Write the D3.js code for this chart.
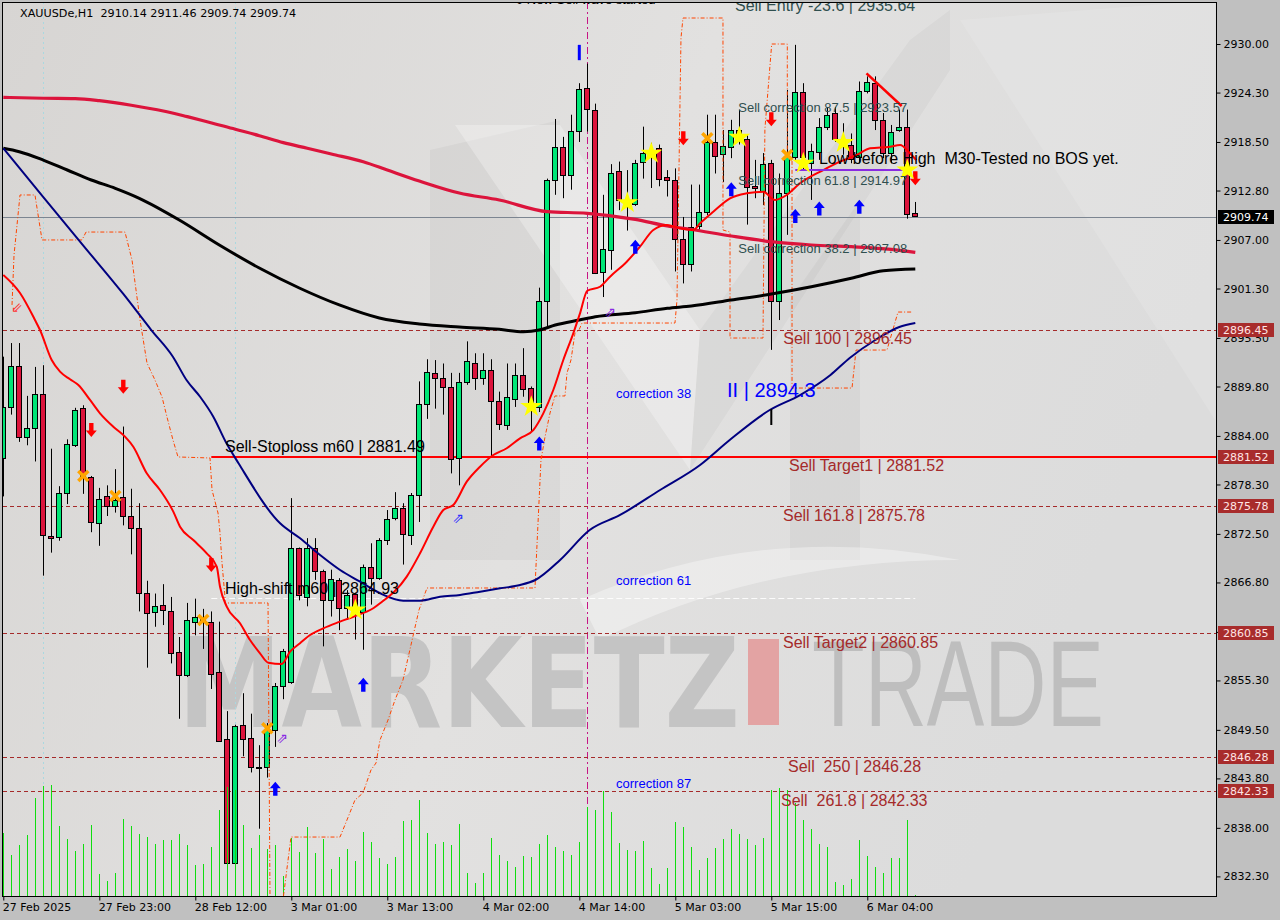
<!DOCTYPE html>
<html><head><meta charset="utf-8">
<script src="https://cdn.jsdelivr.net/npm/d3@7"></script>
<style>html,body{margin:0;padding:0;background:#c0c0c0;}svg{display:block}</style>
</head><body>
<svg id="c" width="1280" height="920"></svg>
<script>
// ---------------- DATA ----------------
const symbolHeader = "XAUUSDe,H1  2910.14 2911.46 2909.74 2909.74";
const timeLabels = ["27 Feb 2025","27 Feb 23:00","28 Feb 12:00","3 Mar 01:00","3 Mar 13:00","4 Mar 02:00","4 Mar 14:00","5 Mar 03:00","5 Mar 15:00","6 Mar 04:00"];
const timeTickIdx = [0,12,24,36,48,60,72,84,96,108];
const priceTicks = [2930.00,2924.30,2918.50,2912.80,2907.00,2901.30,2895.50,2889.80,2884.00,2878.30,2872.50,2866.80,2861.00,2855.30,2849.50,2843.80,2838.00,2832.30];

const opens  = [2881.4,2887.4,2892.2,2883.9,2884.9,2888.9,2872.3,2872.1,2877.3,2883.0,2887.3,2879.2,2873.8,2877.0,2875.8,2876.8,2874.6,2873.2,2865.6,2863.3,2864.1,2863.5,2858.6,2855.9,2862.2,2862.8,2862.2,2856.3,2848.4,2833.9,2850.1,2848.5,2845.1,2845.2,2849.5,2854.7,2855.1,2870.8,2865.1,2870.8,2868.1,2864.7,2867.1,2863.8,2865.5,2863.3,2868.6,2867.3,2871.8,2874.3,2875.5,2872.4,2877.1,2887.8,2891.4,2890.8,2889.8,2881.4,2890.3,2892.6,2890.8,2891.7,2888.1,2885.3,2888.4,2891.2,2889.6,2887.4,2899.8,2914.0,2917.9,2914.6,2919.8,2924.8,2922.3,2903.2,2905.9,2915.1,2911.7,2911.2,2916.1,2917.2,2917.8,2914.4,2914.0,2907.1,2904.2,2908.6,2910.3,2918.5,2917.1,2917.9,2919.9,2918.8,2913.3,2912.7,2916.0,2899.8,2912.5,2916.8,2924.4,2916.0,2917.4,2920.3,2921.9,2918.9,2918.2,2916.8,2924.5,2925.4,2921.1,2917.2,2919.9,2920.3,2910.14];
const highs  = [2893.3,2894.9,2894.9,2888.7,2892.1,2892.3,2882.5,2878.1,2883.6,2887.3,2887.6,2879.3,2877.9,2878.2,2880.1,2885.1,2877.8,2876.1,2867.0,2865.5,2866.6,2865.1,2860.4,2864.4,2864.9,2863.7,2863.4,2862.2,2851.7,2850.1,2853.8,2851.4,2847.7,2850.3,2855.0,2859.0,2876.7,2870.9,2872.0,2872.0,2868.3,2868.3,2867.3,2865.9,2865.6,2868.9,2871.4,2872.0,2875.3,2877.4,2876.1,2877.3,2890.4,2893.0,2892.9,2892.5,2891.4,2891.4,2895.1,2893.7,2893.7,2893.0,2889.2,2892.5,2892.5,2894.3,2889.8,2901.4,2914.2,2921.2,2919.1,2921.7,2925.4,2927.7,2923.0,2912.3,2915.9,2916.2,2915.2,2916.4,2920.3,2918.4,2918.2,2915.2,2915.4,2909.7,2913.5,2913.5,2921.7,2921.7,2919.9,2921.1,2922.3,2919.3,2916.4,2917.2,2916.4,2914.8,2924.6,2929.9,2925.4,2918.3,2921.3,2922.6,2922.6,2920.7,2919.5,2925.6,2926.2,2926.2,2921.9,2920.5,2922.3,2922.3,2911.46];
const lows   = [2876.9,2886.5,2883.3,2882.9,2881.0,2867.6,2870.3,2871.7,2876.0,2882.7,2877.2,2872.7,2871.1,2874.6,2875.0,2873.5,2870.1,2863.4,2856.8,2861.6,2861.8,2857.3,2850.8,2855.7,2860.6,2859.0,2854.3,2848.1,2833.8,2833.8,2846.4,2844.5,2837.9,2843.9,2847.5,2853.1,2854.9,2864.7,2864.0,2867.1,2859.3,2862.8,2861.2,2862.4,2860.1,2858.9,2864.2,2867.1,2871.2,2874.1,2868.9,2871.2,2873.9,2886.0,2887.2,2886.5,2879.6,2878.2,2890.0,2889.4,2890.0,2881.6,2884.7,2884.7,2887.4,2888.6,2884.5,2886.8,2896.8,2912.3,2911.9,2912.9,2918.5,2919.7,2903.0,2900.3,2903.5,2910.5,2908.1,2911.0,2914.2,2913.1,2913.3,2912.1,2903.3,2901.9,2903.3,2908.2,2909.9,2914.8,2913.8,2916.6,2918.2,2908.8,2911.9,2911.1,2894.1,2897.6,2907.6,2916.4,2915.2,2911.7,2916.4,2919.9,2918.5,2917.0,2916.0,2916.0,2924.2,2919.9,2916.6,2916.0,2919.7,2909.5,2909.74];
const closes = [2887.4,2892.2,2883.9,2884.9,2888.9,2872.3,2872.1,2877.3,2883.0,2887.1,2879.2,2873.9,2876.6,2875.8,2876.5,2874.6,2873.2,2865.6,2863.3,2864.0,2863.5,2858.6,2855.9,2862.4,2862.8,2862.4,2856.1,2848.2,2833.9,2850.0,2848.5,2845.1,2845.0,2849.5,2854.7,2858.8,2870.8,2865.3,2870.8,2868.1,2864.7,2867.2,2863.8,2865.3,2864.0,2868.6,2867.3,2871.8,2874.3,2875.5,2872.5,2877.1,2887.8,2891.5,2890.8,2889.8,2881.4,2890.3,2892.8,2890.8,2891.7,2888.1,2885.4,2888.6,2891.2,2889.6,2887.4,2899.8,2914.0,2917.9,2914.6,2919.8,2924.7,2922.3,2903.2,2905.9,2914.9,2911.7,2911.2,2916.0,2917.2,2917.5,2914.2,2914.0,2907.1,2904.2,2908.5,2910.3,2918.5,2916.9,2918.0,2919.9,2919.2,2913.2,2913.1,2915.9,2899.8,2912.5,2916.8,2924.4,2916.8,2917.4,2920.3,2921.7,2918.9,2918.3,2916.6,2924.5,2925.5,2921.1,2917.2,2919.7,2920.3,2910.1,2909.74];
const volumes = [1900,1230,1530,1830,2940,3300,3330,2100,1710,1350,1560,2130,660,450,690,2310,2100,1860,1770,1560,1680,1680,1860,1530,930,960,1470,2580,3280,3180,2130,1440,1830,1410,1530,600,1750,1320,2070,1290,1700,810,1170,1410,1050,1920,1620,1140,960,1170,2250,2280,2880,1890,1560,1620,1530,2160,690,390,690,1740,1230,1050,870,1200,1170,1560,1830,1470,1350,1230,1620,2670,2590,3150,2530,1600,1380,1360,1660,840,360,840,2230,2080,1470,790,1140,1440,1710,2010,1860,1710,1530,1740,3180,3230,3180,2780,2280,2010,1560,1470,420,330,510,1680,1200,870,690,1140,1140,2280,30];

// moving averages: [bar index, price]
const maSlowCrimson = [[0,2923.74],[5,2923.63],[9,2923.59],[12,2923.35],[16,2922.81],[20,2922.14],[23,2921.47],[25,2921.0],[29,2919.99],[32,2919.24],[35,2918.42],[38,2917.76],[41,2917.09],[45,2916.19],[48,2915.21],[52,2913.92],[57,2912.51],[62,2911.69],[68,2910.32],[73,2910.13],[79,2909.42],[83,2908.64],[86,2908.23],[91,2907.46],[96,2906.8],[101,2906.41],[106,2906.21],[111,2905.9],[114,2905.55]];
const maBlack = [[0,2917.76],[2,2917.36],[5,2916.38],[8,2915.21],[11,2914.04],[14,2913.06],[17,2911.89],[22,2909.34],[27,2906.41],[32,2903.71],[37,2901.36],[42,2899.37],[47,2897.84],[52,2897.14],[57,2896.78],[62,2896.51],[65,2896.23],[67,2896.43],[69,2897.02],[72,2897.61],[74,2897.99],[79,2898.46],[83,2898.98],[86,2899.25],[91,2899.95],[96,2900.66],[101,2901.51],[106,2902.5],[110,2903.39],[114,2903.59]];
const maNavy = [[0,2917.76],[5,2912.04],[10,2906.34],[15,2900.66],[18.5,2896.43],[21.2,2893.3],[22.9,2890.56],[24.6,2888.6],[26.25,2886.26],[27.9,2883.13],[29.4,2880.79],[34.6,2873.74],[37.1,2871.98],[39.6,2870.02],[42.1,2868.26],[44.6,2866.89],[47.1,2865.53],[50,2864.66],[52.1,2864.66],[54.6,2865.13],[57.1,2865.33],[59.6,2865.72],[62.1,2866.11],[64.6,2866.5],[66.5,2867.09],[69.6,2869.44],[73.3,2872.96],[77.1,2874.72],[82.1,2877.65],[87.1,2880.59],[90.8,2883.52],[95.8,2887.04],[99.6,2888.8],[103.4,2891.15],[105.8,2893.15],[109,2895.26],[112,2896.78],[114,2897.25]];
const maRed = [[0,2902.89],[2.09,2900.77],[3.96,2897.61],[4.59,2896.43],[6.05,2892.91],[7.09,2891.54],[8.34,2890.65],[9.38,2889.98],[10.84,2888.22],[12.09,2886.65],[13.75,2885.08],[15.21,2883.91],[16.25,2882.73],[17.93,2879.61],[19.59,2877.65],[21.25,2875.11],[22.09,2873.34],[23.75,2871.78],[25.43,2870.22],[26.68,2868.65],[27.09,2866.3],[27.93,2863.96],[29.59,2862.01],[30.84,2860.05],[32.09,2858.49],[33.13,2857.38],[34.8,2857.23],[35.84,2858.67],[37.09,2859.66],[38.34,2860.63],[40.0,2861.42],[42.09,2862.2],[43.75,2862.78],[46.25,2863.77],[47.09,2864.35],[50.43,2867.48],[52.09,2870.22],[53.75,2873.34],[55.0,2875.31],[56.25,2875.89],[57.93,2878.63],[59.59,2880.39],[61.25,2881.76],[62.93,2882.55],[64.59,2883.72],[66.25,2884.69],[67.5,2886.65],[68.75,2889.39],[70.0,2892.91],[71.25,2896.04],[72.09,2898.39],[73.0,2901.04],[74.59,2901.51],[75.84,2902.69],[77.93,2904.45],[79.59,2906.21],[81.25,2908.17],[82.93,2908.76],[84.59,2908.37],[86.25,2908.17],[87.09,2908.96],[88.75,2910.32],[90.84,2911.89],[92.93,2912.48],[95.0,2912.66],[96.46,2911.69],[97.93,2912.28],[99.59,2913.65],[102.5,2915.21],[104.59,2916.19],[106.68,2916.97],[108.34,2917.76],[110.84,2917.95],[112.09,2918.15],[113.34,2917.17],[114.1,2916.38]];
// stepped orange dashed band
const bandLine = [[1.09,2899.37],[1.34,2905.23],[2.09,2912.28],[3.96,2912.28],[4.84,2907.0],[9.84,2907.0],[10.34,2907.93],[15.21,2907.93],[16.09,2904.65],[17.09,2897.61],[17.96,2892.56],[18.96,2890.56],[19.84,2888.57],[20.46,2886.22],[21.21,2883.52],[21.84,2881.53],[25.84,2881.41],[26.09,2877.65],[26.84,2874.95],[27.09,2872.61],[27.34,2869.08],[27.71,2865.09],[27.71,2864.39],[33.09,2864.39],[33.34,2829.53],[34.96,2829.53],[35.96,2836.92],[42.09,2836.92],[42.96,2838.92],[43.96,2841.27],[44.96,2842.09],[45.96,2844.79],[46.59,2845.61],[47.09,2848.31],[48.09,2850.66],[48.96,2853.0],[49.96,2855.35],[50.96,2859.46],[51.96,2863.57],[52.96,2866.15],[66.46,2866.15],[67.21,2881.17],[67.71,2883.87],[68.34,2886.69],[68.96,2888.69],[70.21,2888.69],[70.46,2891.38],[70.96,2892.91],[71.46,2896.08],[71.96,2896.43],[72.34,2897.25],[83.96,2897.25],[84.21,2899.95],[84.71,2930.7],[84.96,2933.05],[89.96,2933.05],[89.96,2908.17],[90.84,2907.93],[90.84,2895.49],[94.96,2895.49],[95.2,2920.0],[96.05,2930.0],[98.0,2930.0],[98.0,2916.74],[98.59,2916.38],[98.59,2889.62],[106.09,2889.62],[106.59,2894.08],[110.46,2894.08],[111.84,2898.54],[113.59,2898.54]];

const dashedLevels = [2896.45,2875.78,2860.85,2846.28,2842.33];
const stopLevel = 2881.52, stopFromIdx = 26;
const shiftLevel = 2864.93;
const lastPrice = 2909.74;
const priceTags = [{v:2909.74,k:"last"},{v:2896.45,k:"lvl"},{v:2881.52,k:"lvl"},{v:2875.78,k:"lvl"},{v:2860.85,k:"lvl"},{v:2846.28,k:"lvl"},{v:2842.33,k:"lvl"}];

const buyArrowIdx = [34,45,67,79,91,99,102,107];
const buyArrowPx  = [2842.6,2854.8,2883.1,2906.2,2912.95,2909.8,2910.7,2910.9];
const sellArrowIdx = [11,15,26,85,96,114];
const sellArrowPx  = [2884.7,2889.78,2868.85,2918.93,2921.16,2914.24];
const starIdx = [44,66,78,81,92,100,105,113];
const starPx  = [2863.57,2887.43,2911.37,2917.17,2919.05,2916.0,2918.42,2915.21];
const crossIdx = [10,14,25,33,88,98];
const crossPx  = [2879.3,2876.95,2862.4,2849.7,2918.93,2916.97];
const hollowIdx = [1.71,34.84,56.84,75.84];
const hollowPx  = [2899.13,2848.54,2874.37,2898.54];
const hollowGlyph = ["⇙","⇗","⇗","⇗"];

const lowBeforeHigh = {from:99,to:113,price:2915.2};
const trendRed = [[107.9,2926.56],[112.3,2922.72]];
const sepIdx = [5,29];
const pinkSepIdx = 73;

// annotations: text, anchor bar index, anchor price
const notes = [
 {t:"0 New Sell wave started", i:64.09, p:2934.69, c:"#000000", s:13},
 {t:"Sell Entry -23.6 | 2935.64", i:91.46, p:2933.9, c:"#2f4f4f", s:16},
 {t:"Sell correction 87.5 | 2923.57", i:91.87, p:2922.05, c:"#2f4f4f", s:13},
 {t:"Sell correction 61.8 | 2914.97", i:91.87, p:2913.4, c:"#2f4f4f", s:13},
 {t:"Sell correction 38.2 | 2907.08", i:91.87, p:2905.5, c:"#2f4f4f", s:13},
 {t:"Low before High  M30-Tested no BOS yet.", i:101.96, p:2915.9, c:"#000000", s:16},
 {t:"Sell 100 | 2896.45", i:97.5, p:2894.75, c:"#a52a2a", s:16},
 {t:"II | 2894.3", i:90.46, p:2888.56, c:"#0000ff", s:20},
 {t:"correction 38", i:76.59, p:2888.45, c:"#0000ff", s:13},
 {t:"Sell-Stoploss m60 | 2881.49", i:27.71, p:2882.1, c:"#000000", s:16},
 {t:"Sell Target1 | 2881.52", i:98.21, p:2879.9, c:"#a52a2a", s:16},
 {t:"Sell 161.8 | 2875.78", i:97.46, p:2874.0, c:"#a52a2a", s:16},
 {t:"correction 61", i:76.59, p:2866.5, c:"#0000ff", s:13},
 {t:"High-shift m60 | 2864.93", i:27.71, p:2865.5, c:"#000000", s:16},
 {t:"Sell Target2 | 2860.85", i:97.46, p:2859.1, c:"#a52a2a", s:16},
 {t:"Sell  250 | 2846.28", i:98.09, p:2844.55, c:"#a52a2a", s:16},
 {t:"correction 87", i:76.59, p:2842.68, c:"#0000ff", s:13},
 {t:"Sell  261.8 | 2842.33", i:97.21, p:2840.55, c:"#a52a2a", s:16}
];

// ---------------- LAYOUT ----------------
const L = 3, T = 2, R = 1216, B = 896;
const svg = d3.select("#c");
const x = d3.scaleLinear().domain([0,114]).range([3.3,915.3]);
const y = d3.scaleLinear().domain([2832.3,2930]).range([876.4,44]);
const vy = d3.scaleLinear().domain([0,3780]).range([B,770]);
const arial = "'Liberation Sans', Arial, sans-serif";
const ui = "'DejaVu Sans', Verdana, sans-serif";

const defs = svg.append("defs");
const gr = defs.append("linearGradient").attr("id","bg").attr("x1","0").attr("y1","0").attr("x2","1").attr("y2","0.3");
gr.append("stop").attr("offset","0").attr("stop-color","#d7d5d3");
gr.append("stop").attr("offset","0.55").attr("stop-color","#e2e1e0");
gr.append("stop").attr("offset","1").attr("stop-color","#dcdcdc");
defs.append("clipPath").attr("id","clip").append("rect").attr("x",L).attr("y",T).attr("width",R-L).attr("height",B-T);

svg.append("rect").attr("width",1280).attr("height",920).attr("fill","#c0c0c0");
svg.append("rect").attr("x",L).attr("y",T).attr("width",R-L).attr("height",B-T).attr("fill","url(#bg)");

const plot = svg.append("g").attr("clip-path","url(#clip)");

// background logo shapes
const logo = plot.append("g");
logo.append("path").attr("d","M430,150 L560,120 L560,560 L430,560 Z").attr("fill","#000").attr("opacity",0.035);
logo.append("path").attr("d","M455,125 L560,125 L700,330 L690,470 Z").attr("fill","#fff").attr("opacity",0.28);
logo.append("path").attr("d","M690,470 L700,330 L910,40 L950,10 L950,70 Z").attr("fill","#000").attr("opacity",0.03);
logo.append("path").attr("d","M790,560 L790,300 L860,200 L860,560 Z").attr("fill","#000").attr("opacity",0.035);
logo.append("path").attr("d","M580,600 Q760,520 960,560 Q760,560 600,640 Z").attr("fill","#fff").attr("opacity",0.35);
logo.append("path").attr("d","M960,20 L1215,0 L1215,420 Z").attr("fill","#fff").attr("opacity",0.12);

// watermark text
plot.append("text").attr("x",178).attr("y",727).attr("font-family",ui).attr("font-weight","bold")
  .attr("font-size",124).attr("textLength",562).attr("lengthAdjust","spacingAndGlyphs")
  .attr("fill","#c4c4c4").text("MARKETZ");
plot.append("rect").attr("x",748).attr("y",639).attr("width",31).attr("height",86).attr("fill","#e3a3a3");
plot.append("text").attr("x",812).attr("y",726).attr("font-family",arial)
  .attr("font-size",122).attr("textLength",292).attr("lengthAdjust","spacingAndGlyphs")
  .attr("fill","#bebebe").text("TRADE");

// separators
plot.selectAll(".sep").data(sepIdx).enter().append("line")
  .attr("x1",d=>Math.round(x(d))+0.5).attr("x2",d=>Math.round(x(d))+0.5).attr("y1",T).attr("y2",B)
  .attr("stroke","#a9d8e0").attr("stroke-dasharray","2,3").attr("stroke-width",1);
plot.append("line").attr("x1",Math.round(x(pinkSepIdx))+0.5).attr("x2",Math.round(x(pinkSepIdx))+0.5)
  .attr("y1",T).attr("y2",B).attr("stroke","#c71585").attr("stroke-dasharray","7,3,2,3");

// horizontal levels
plot.selectAll(".lvl").data(dashedLevels).enter().append("line")
  .attr("x1",L).attr("x2",R).attr("y1",d=>Math.round(y(d))+0.5).attr("y2",d=>Math.round(y(d))+0.5)
  .attr("stroke","#a52a2a").attr("stroke-dasharray","4,3");
plot.append("line").attr("x1",L).attr("x2",R).attr("y1",Math.round(y(lastPrice))+0.5).attr("y2",Math.round(y(lastPrice))+0.5)
  .attr("stroke","#7c8591");
plot.append("line").attr("x1",x(stopFromIdx)).attr("x2",R).attr("y1",y(stopLevel)).attr("y2",y(stopLevel))
  .attr("stroke","#ff0000").attr("stroke-width",2);
plot.append("line").attr("x1",x(stopFromIdx)).attr("x2",x(114)).attr("y1",Math.round(y(shiftLevel))+0.5).attr("y2",Math.round(y(shiftLevel))+0.5)
  .attr("stroke","#ffffff").attr("stroke-dasharray","6,3").attr("opacity",0.9);

// candles
const idx = d3.range(opens.length);
const cg = plot.append("g");
idx.forEach(i=>{
  const xc = Math.round(x(i));
  cg.append("line").attr("x1",xc+0.5).attr("x2",xc+0.5).attr("y1",y(highs[i])).attr("y2",y(lows[i]))
    .attr("stroke","#000").attr("stroke-width",1);
  const bull = closes[i] >= opens[i];
  const top = y(Math.max(opens[i],closes[i])), bot = y(Math.min(opens[i],closes[i]));
  cg.append("rect").attr("x",xc-2.5).attr("y",Math.round(top)+0.5).attr("width",5)
    .attr("height",Math.max(1,Math.round(bot-top)))
    .attr("fill",bull?"#00e676":"#dc143c").attr("stroke","#000").attr("stroke-width",1);
});

// volumes
plot.append("g").attr("shape-rendering","crispEdges").selectAll("line").data(idx).enter().append("line")
  .attr("x1",i=>Math.round(x(i))+0.5).attr("x2",i=>Math.round(x(i))+0.5)
  .attr("y1",i=>Math.round(vy(volumes[i]))).attr("y2",B).attr("stroke","#10dd10").attr("stroke-width",1.2);

// lines
const ln = d3.line().x(d=>x(d[0])).y(d=>y(d[1])).curve(d3.curveMonotoneX);
const lnLin = d3.line().x(d=>x(d[0])).y(d=>y(d[1]));
plot.append("path").attr("d",lnLin(bandLine)).attr("fill","none").attr("stroke","#ff4500").attr("stroke-width",1).attr("stroke-dasharray","4,2,1,2");
plot.append("path").attr("d",ln(maSlowCrimson)).attr("fill","none").attr("stroke","#dc143c").attr("stroke-width",3.2);
plot.append("path").attr("d",ln(maBlack)).attr("fill","none").attr("stroke","#000").attr("stroke-width",3);
plot.append("path").attr("d",ln(maNavy)).attr("fill","none").attr("stroke","#000080").attr("stroke-width",2);
plot.append("path").attr("d",ln(maRed)).attr("fill","none").attr("stroke","#ff0000").attr("stroke-width",2);

plot.append("line").attr("x1",x(lowBeforeHigh.from)).attr("x2",x(lowBeforeHigh.to))
  .attr("y1",y(lowBeforeHigh.price)).attr("y2",y(lowBeforeHigh.price)).attr("stroke","#8a2be2").attr("stroke-width",2);
plot.append("path").attr("d",lnLin(trendRed)).attr("stroke","#ff0000").attr("stroke-width",2.5).attr("fill","none");

// wave marks
plot.append("line").attr("x1",x(72)).attr("x2",x(72)).attr("y1",y(2929.9)).attr("y2",y(2928.1)).attr("stroke","#0000ff").attr("stroke-width",3);
plot.append("line").attr("x1",x(96)).attr("x2",x(96)).attr("y1",y(2887.16)).attr("y2",y(2885.28)).attr("stroke","#000").attr("stroke-width",2);

// symbols
const upArrow = "M0,-7 L5.5,-0.5 L2.2,-0.5 L2.2,7 L-2.2,7 L-2.2,-0.5 L-5.5,-0.5 Z";
const dnArrow = "M0,7 L5.5,0.5 L2.2,0.5 L2.2,-7 L-2.2,-7 L-2.2,0.5 L-5.5,0.5 Z";
plot.selectAll(".ba").data(buyArrowIdx).enter().append("path")
  .attr("d",upArrow).attr("transform",(d,k)=>`translate(${x(d)},${y(buyArrowPx[k])})`).attr("fill","#0000ff");
plot.selectAll(".sa").data(sellArrowIdx).enter().append("path")
  .attr("d",dnArrow).attr("transform",(d,k)=>`translate(${x(d)},${y(sellArrowPx[k])})`).attr("fill","#ff0000");
const star = d3.symbol().type(d3.symbolStar).size(150)();
plot.selectAll(".st").data(starIdx).enter().append("path")
  .attr("d",star).attr("transform",(d,k)=>`translate(${x(d)},${y(starPx[k])})`).attr("fill","#ffff00");
plot.selectAll(".cr").data(crossIdx).enter().append("path")
  .attr("d","M-5,-5 L5,5 M5,-5 L-5,5").attr("transform",(d,k)=>`translate(${x(d)},${y(crossPx[k])})`)
  .attr("stroke","#ffa500").attr("stroke-width",3.5).attr("fill","none");
plot.selectAll(".ho").data(hollowIdx).enter().append("text")
  .attr("x",d=>x(d)).attr("y",(d,k)=>y(hollowPx[k])+5).attr("text-anchor","middle")
  .attr("font-family",ui).attr("font-size",14)
  .attr("fill",(d,k)=>k===0?"#ff3030":(k===2?"#3030ff":"#8a2be2")).text((d,k)=>hollowGlyph[k]);

// annotations
plot.selectAll(".nt").data(notes).enter().append("text")
  .attr("x",d=>x(d.i)).attr("y",d=>y(d.p)).attr("font-family",arial)
  .attr("font-size",d=>d.s).attr("fill",d=>d.c).attr("xml:space","preserve")
  .style("white-space","pre").text(d=>d.t);

// header
svg.append("text").attr("x",20).attr("y",17).attr("font-family",ui).attr("font-size",11.2).attr("fill","#000")
  .style("white-space","pre").text(symbolHeader);

// frame
svg.append("rect").attr("x",L-0.5).attr("y",T+0.5).attr("width",R-L+1).attr("height",B-T).attr("fill","none").attr("stroke","#000");

// right axis
const ax = d3.axisRight(y).tickValues(priceTicks).tickFormat(d3.format(".2f")).tickSize(4).tickPadding(3);
const gA = svg.append("g").attr("transform",`translate(${R+0.5},0)`).call(ax);
gA.select(".domain").remove();
gA.selectAll("text").attr("font-family",ui).attr("font-size",11).attr("fill","#000");
gA.selectAll("line").attr("stroke","#000");

// bottom axis
const bx = d3.axisBottom(x).tickValues(timeTickIdx).tickFormat((d,k)=>timeLabels[k]).tickSize(4).tickPadding(3);
const gB = svg.append("g").attr("transform",`translate(0,${B+0.5})`).call(bx);
gB.select(".domain").remove();
gB.selectAll("text").attr("font-family",ui).attr("font-size",11).attr("fill","#000").attr("text-anchor","start").attr("dx",-1);
gB.selectAll("line").attr("stroke","#000");

// price tags
const tg = svg.append("g");
priceTags.forEach(t=>{
  const yy = Math.round(y(t.v));
  tg.append("rect").attr("x",R+2).attr("y",yy-7).attr("width",56).attr("height",14)
    .attr("fill",t.k==="last"?"#000":"#a82c2c");
  tg.append("text").attr("x",R+7).attr("y",yy+4).attr("font-family",ui).attr("font-size",11)
    .attr("fill",t.k==="last"?"#fff":"#ffe4e4").text(t.v.toFixed(2));
});
</script>
</body></html>
